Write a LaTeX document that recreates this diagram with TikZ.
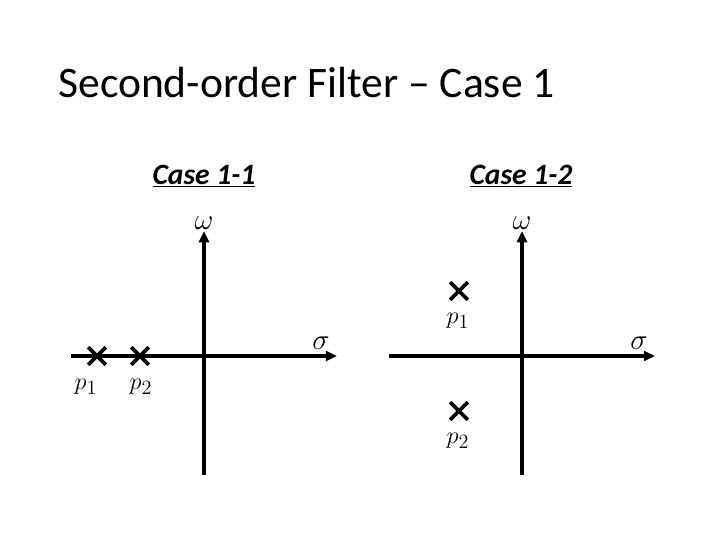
\documentclass[tikz,border=0pt]{standalone}
\usepackage{fontspec}
\setmainfont{Carlito}
\usepackage{tikz}
\usetikzlibrary{positioning,arrows.meta,shapes.misc}

\begin{document}
\begin{tikzpicture}[
  x=0.025cm, y=-0.025cm,
  ttl/.style={anchor=base west, inner sep=0pt, font=\fontsize{31}{36}\selectfont},
  casel/.style={anchor=base, inner sep=0pt, font=\fontsize{21}{25}\selectfont\bfseries\itshape},
  axlab/.style={inner sep=0pt, font=\fontsize{21}{25}\selectfont},
  pole/.style={draw, cross out, line width=2.6pt, minimum size=10pt, inner sep=0pt},
  plab/.style={inner sep=0pt, font=\fontsize{19}{22}\selectfont},
  axis/.style={-{Triangle[length=8pt,width=7pt]}, line width=2.6pt},
  line/.style={line width=2.6pt},
]
\useasboundingbox (0,0) rectangle (720,540);

%% Title
\node[ttl] (title) at (58,97) {Second-order Filter – Case 1};

%% Case headings
\node[casel] (ca) at (204,184) {\underline{Case 1-1}};
\node[casel] (cb) at (521,184) {\underline{Case 1-2}};

%% Case 1-1 axes
\coordinate (lo) at (204,356);
\coordinate (lw) at (71,356);
\coordinate (le) at (337,356);
\coordinate (ln) at (204,231);
\coordinate (ls) at (204,475);
\draw[line](lo)--(lw);
\draw[axis](lo)--(le);
\draw[line](lo)--(ls);
\draw[axis](lo)--(ln);
\node[axlab] (lw1) at (204,223) {$\omega$};
\node[axlab] (ls1) at (321,343) {$\sigma$};

%% Case 1-1 poles
\node[pole] (lp1) at (97,356) {};
\node[pole] (lp2) at (140,356) {};
\node[plab] at (86,387) {$p_1$};
\node[plab] at (141,387) {$p_2$};

%% Case 1-2 axes
\coordinate (ro) at (522,356);
\coordinate (rw) at (389,356);
\coordinate (re) at (655,356);
\coordinate (rn) at (522,231);
\coordinate (rs) at (522,475);
\draw[line](ro)--(rw);
\draw[axis](ro)--(re);
\draw[line](ro)--(rs);
\draw[axis](ro)--(rn);
\node[axlab] (rw1) at (522,223) {$\omega$};
\node[axlab] (rs1) at (639,343) {$\sigma$};

%% Case 1-2 poles
\node[pole] (rp1) at (459,291) {};
\node[pole] (rp2) at (459,411) {};
\node[plab] at (458,321) {$p_1$};
\node[plab] at (458,441) {$p_2$};

\end{tikzpicture}
\end{document}
